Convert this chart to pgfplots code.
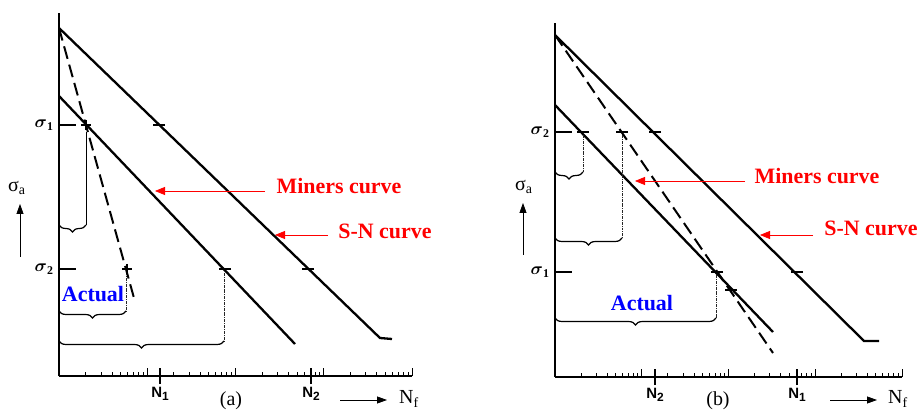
\documentclass[border=0pt]{standalone}
\usepackage{amsmath}
\usepackage{pgfplots}
\pgfplotsset{compat=1.18}
\usepackage{fontspec}
\setmainfont{Liberation Serif}
\newfontfamily\sansfont{Liberation Sans}
\usetikzlibrary{arrows.meta,decorations.pathreplacing}
\definecolor{pred}{RGB}{255,0,0}
\definecolor{pblue}{RGB}{0,0,255}
\newcommand{\Nl}[1]{{\sansfont\bfseries\fontsize{15}{15}\selectfont N\raisebox{-2.5bp}{\fontsize{12}{12}\selectfont #1}}}
\newcommand{\Sl}[1]{{\fontsize{17}{17}\selectfont$\boldsymbol{\sigma}_{\mathbf{#1}}$}}
\pgfplotsset{
  panel/.style={
    x=1bp, y=1bp, anchor=south west,
    enlargelimits=false, clip=false,
    axis lines=left, axis line style={-, line width=1.3bp},
    xticklabels={{},{},{},{},{}},
    ytick=\empty,
    tick align=inside, major tick length=8bp, minor tick length=4bp,
    tick style={black, line width=0.9bp},
    extra x tick style={major tick length=16bp, tick align=center, tick style={line width=1.3bp}},
    extra y tick style={major tick length=17bp, tick align=inside, tick style={line width=1.3bp}},
    yticklabel style={xshift=-2bp},
  },
  sncurve/.style={black, line width=2.3bp},
  sndcurve/.style={black, line width=2bp, dash pattern=on 13bp off 6bp},
  snvline/.style={black, line width=0.8bp},
  snvdline/.style={black!85, line width=0.8bp, densely dashdotted},
  sncmark/.style={only marks, mark=-, mark size=6bp, mark options={line width=1.4bp}},
  snxmark/.style={only marks, mark=+, mark size=5bp, mark options={line width=1.4bp}},
}
\tikzset{
  snbrace/.style={decorate, decoration={brace, mirror, amplitude=7bp}, black, line width=1.2bp},
  snrarrow/.style={pred, line width=0.8bp, -{Triangle[length=10bp,width=8bp]}},
  snkarrow/.style={black, line width=0.8bp, -{Triangle[length=10bp,width=7bp]}},
  snrtext/.style={pred, font=\bfseries\fontsize{22}{22}\selectfont},
  snbtext/.style={pblue, font=\bfseries\fontsize{22}{22}\selectfont},
  snltext/.style={font=\fontsize{20}{20}\selectfont},
}
\begin{document}
\begin{tikzpicture}
\useasboundingbox (0,0) rectangle (921bp,412bp);
\begin{axis}[panel, at={(59bp,36bp)},
  xmin=59, xmax=412, ymin=36, ymax=399,
  xtick={59,147.25,235.5,323.75,412},
  minor xtick={85.6,101.1,112.1,120.7,127.7,133.6,138.7,143.2,173.8,189.4,200.4,208.9,215.9,221.8,226.9,231.5,262.1,277.6,288.6,297.2,304.2,310.1,315.2,319.7,350.3,365.9,376.9,385.4,392.4,398.3,403.4,408.0},
  extra x ticks={160,311}, extra x tick labels={\Nl{1},\Nl{2}},
  extra y ticks={143,287}, extra y tick labels={\Sl{2},\Sl{1}},
]
\addplot[sncurve] coordinates {(59,384) (380,74) (392,73)};
\addplot[sncurve] coordinates {(59,316) (295,68)};
\addplot[sndcurve] coordinates {(59,384) (134,114)};
\addplot[snvline] coordinates {(86,280) (86,187)};
\addplot[snvdline] coordinates {(126,140) (126,101)};
\addplot[snvdline] coordinates {(224,139) (224,71)};
\addplot[sncmark] coordinates {(159,287) (308,143) (225,143)};
\addplot[snxmark] coordinates {(86,287) (127,143)};
\end{axis}
\begin{axis}[panel, at={(555bp,35bp)},
  xmin=555, xmax=902, ymin=35, ymax=389,
  xtick={555,641.75,728.5,815.25,902},
  minor xtick={581.1,596.4,607.2,615.6,622.5,628.3,633.3,637.8,667.9,683.1,694.0,702.4,709.3,715.1,720.1,724.5,754.6,769.9,780.7,789.1,796.0,801.8,806.8,811.3,841.4,856.6,867.5,875.9,882.8,888.6,893.6,898.0},
  extra x ticks={655,797}, extra x tick labels={\Nl{2},\Nl{1}},
  extra y ticks={140,280}, extra y tick labels={\Sl{1},\Sl{2}},
]
\addplot[sncurve] coordinates {(555,377) (864,71) (879,71)};
\addplot[sncurve] coordinates {(555,307) (773,80)};
\addplot[sndcurve] coordinates {(555,377) (773,59)};
\addplot[snvdline] coordinates {(583,277) (583,240)};
\addplot[snvdline] coordinates {(622,277) (622,174)};
\addplot[snvdline] coordinates {(716,137) (716,94)};
\addplot[sncmark] coordinates {(655,280) (797,140) (583,280) (622,280) (717,140) (731,122)};
\end{axis}
\begin{scope}[x=1bp, y=1bp]
% panel (a) annotations
\draw[snbrace] (59,187) -- (86,187);
\draw[snbrace] (59,101) -- (126,101);
\draw[snbrace] (59,71) -- (224,71);
\node[snbtext] at (93,118) {Actual};
\draw[snrarrow] (265,221) -- (155,221);
\node[snrtext] at (339,226) {Miners curve};
\draw[snrarrow] (328,177) -- (275,177);
\node[snrtext] at (385,181) {S-N curve};
\node[snltext, anchor=west, inner sep=0pt] at (8,224) {σ\textsubscript{a}};
\draw[snkarrow] (20,155) -- (20,208);
\node[snltext] at (231,11) {(a)};
\draw[snkarrow] (340,12) -- (387,12);
\node[snltext, anchor=west, inner sep=0pt] at (399,13) {N\textsubscript{f}};
% panel (b) annotations
\draw[snbrace] (555,240) -- (583,240);
\draw[snbrace] (555,174) -- (622,174);
\draw[snbrace] (555,94) -- (716,94);
\node[snbtext] at (642,109) {Actual};
\draw[snrarrow] (745,231) -- (635,231);
\node[snrtext] at (817,236) {Miners curve};
\draw[snrarrow] (813,177) -- (760,177);
\node[snrtext] at (871,184) {S-N curve};
\node[snltext, anchor=west, inner sep=0pt] at (515,225) {σ\textsubscript{a}};
\draw[snkarrow] (523,157) -- (523,209);
\node[snltext] at (718,11) {(b)};
\draw[snkarrow] (830,12) -- (877,12);
\node[snltext, anchor=west, inner sep=0pt] at (888,13) {N\textsubscript{f}};
\end{scope}
\end{tikzpicture}
\end{document}
